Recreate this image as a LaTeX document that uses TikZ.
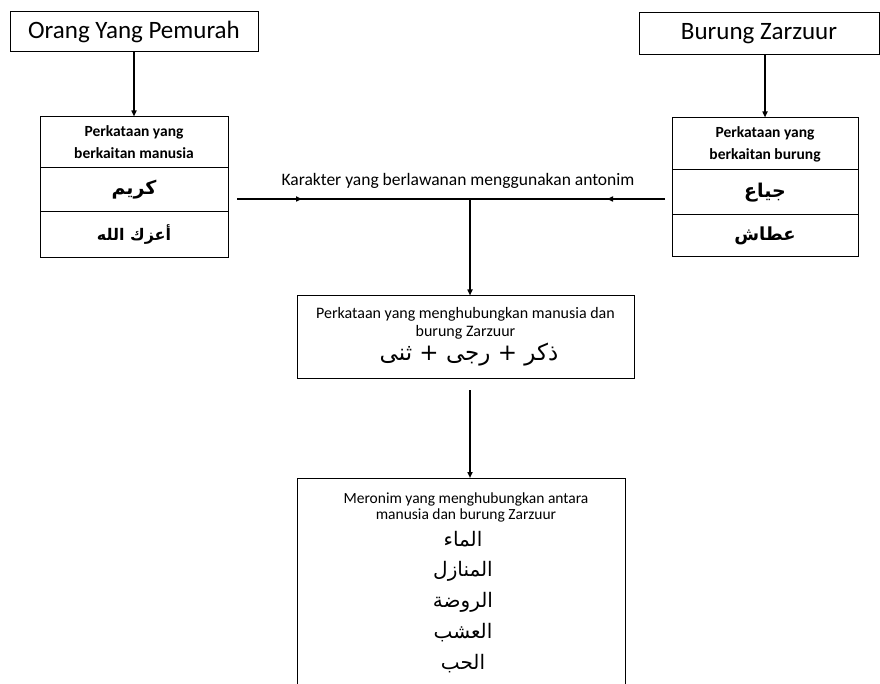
\documentclass[tikz,border=0pt]{standalone}
\usepackage{fontspec}
\setmainfont{Carlito}
\newfontfamily\arabicfont[Script=Arabic]{DejaVu Sans}
\TeXXeTstate=1
\usetikzlibrary{arrows.meta,decorations.markings}
\newcommand{\ar}[1]{{\arabicfont\beginR #1\endR}}
\begin{document}
\begin{tikzpicture}[x=1pt,y=-1pt,
  box/.style={draw,line width=1pt,inner sep=0pt,align=center},
  cell/.style={draw,line width=1pt,inner sep=0pt,align=center},
  arr/.style={line width=1.5pt,-{Triangle[length=6pt,width=5pt]}},
  plain/.style={line width=1.5pt},
  midtip/.style={decoration={markings,mark=at position #1 with {\arrow{Triangle[length=6pt,width=5pt]}}},postaction={decorate}}
]
\useasboundingbox (0,0) rectangle (880,684);
% top boxes
\node[box,minimum width=248pt,minimum height=40pt,font=\fontsize{25}{30}\selectfont] (t1) at (134,32) {Orang Yang Pemurah};
\node[box,minimum width=240pt,minimum height=42pt,font=\fontsize{25}{30}\selectfont] (t2) at (759,34) {Burung Zarzuur};
% left table
\node[cell,minimum width=188pt,minimum height=51pt,font=\fontsize{15.5}{22}\selectfont\bfseries] (lh) at (134,142.5) {Perkataan yang\\berkaitan manusia};
\node[cell,minimum width=188pt,minimum height=44pt,font=\fontsize{19}{22}\selectfont\bfseries] (lr1) at (134,190) {\ar{كريم}};
\node[cell,minimum width=188pt,minimum height=46pt,font=\fontsize{16}{20}\selectfont\bfseries] (lr2) at (134,235) {\ar{أعزك الله}};
% right table
\node[cell,minimum width=186pt,minimum height=52pt,font=\fontsize{15.5}{22}\selectfont\bfseries] (rh) at (765,144) {Perkataan yang\\berkaitan burung};
\node[cell,minimum width=186pt,minimum height=45pt,font=\fontsize{19}{22}\selectfont\bfseries] (rr1) at (765,192.5) {\ar{جياع}};
\node[cell,minimum width=186pt,minimum height=42pt,font=\fontsize{18}{20}\selectfont\bfseries] (rr2) at (765,236) {\ar{عطاش}};
% arrows down from top boxes
\draw[arr] (t1.south) -- (lh.north);
\draw[arr] (t2.south -| rh.north) -- (rh.north);
% horizontal connector
\coordinate (hl) at (237,199);
\coordinate (hr) at (665,199);
\coordinate (j) at (470,199);
\node[font=\fontsize{17.5}{20}\selectfont] (lab) at (458,181) {Karakter yang berlawanan menggunakan antonim};
\draw[plain,midtip=65pt] (hl) -- (j);
\draw[plain,midtip=58pt] (hr) -- (j);
% middle box
\node[box,minimum width=337pt,minimum height=82pt] (mid) at (465.5,337) {};
\node[font=\fontsize{16}{18}\selectfont,align=center] (midtxt) at (465.5,323.5) {Perkataan yang menghubungkan manusia dan\\burung Zarzuur};
\node[font=\fontsize{23}{26}\selectfont] (midar) at (469,355) {\ar{ذكر + رجى + ثنى}};
\draw[arr] (j) -- (j |- mid.north);
% bottom box
\coordinate (a1) at (470,390);
\coordinate (bl) at (297,684);
\coordinate (btl) at (297,478);
\coordinate (btr) at (625,478);
\coordinate (br) at (625,684);
\draw[line width=1pt] (bl) -- (btl) -- (btr) -- (br);
\draw[arr] (a1) -- (a1 |- btl);
\node[font=\fontsize{15.5}{15.5}\selectfont,align=center] (bottxt) at (466,507.5) {Meronim yang menghubungkan antara\\manusia dan burung Zarzuur};
\node[font=\fontsize{20}{20}\selectfont] (w1) at (463,539) {\ar{الماء}};
\node[font=\fontsize{20}{20}\selectfont] (w2) at (463,571) {\ar{المنازل}};
\node[font=\fontsize{20}{20}\selectfont] (w3) at (463,602) {\ar{الروضة}};
\node[font=\fontsize{20}{20}\selectfont] (w4) at (463,633) {\ar{العشب}};
\node[font=\fontsize{20}{20}\selectfont] (w5) at (463,664) {\ar{الحب}};
\end{tikzpicture}
\end{document}
